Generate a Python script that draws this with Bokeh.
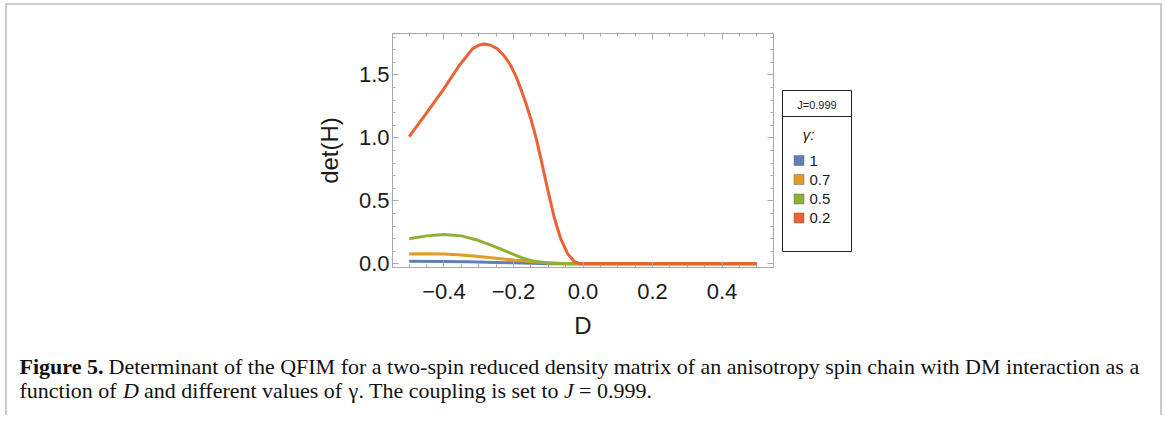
from bokeh.plotting import figure
from bokeh.layouts import row, column
from bokeh.models import Range1d, FixedTicker, LinearAxis
from bokeh.core.properties import value
from bokeh.embed import file_html
from bokeh.resources import INLINE

# ---------------- data ----------------
x_g1 = [-0.5, -0.4, -0.33, -0.25, -0.2, -0.15, -0.1, -0.05, 0.0, 0.5]
y_g1 = [0.021, 0.019, 0.016, 0.011, 0.008, 0.004, 0.001, 0.0, 0.0, 0.0]

x_g07 = [-0.5, -0.45, -0.4, -0.35, -0.3, -0.25, -0.2, -0.15, -0.11, -0.07, -0.03, 0.0, 0.5]
y_g07 = [0.079, 0.08, 0.078, 0.07, 0.058, 0.044, 0.03, 0.018, 0.01, 0.004, 0.0, 0.0, 0.0]

x_g05 = [-0.5, -0.45, -0.4, -0.35, -0.3, -0.265, -0.236, -0.2, -0.17, -0.14, -0.11, -0.08, -0.05, 0.0, 0.5]
y_g05 = [0.2, 0.222, 0.232, 0.222, 0.185, 0.148, 0.117, 0.075, 0.042, 0.02, 0.008, 0.003, 0.0, 0.0, 0.0]

x_g02 = [-0.5, -0.452, -0.404, -0.356, -0.318, -0.3, -0.284, -0.265, -0.246, -0.225,
         -0.208, -0.193, -0.179, -0.165, -0.15, -0.135, -0.121, -0.102, -0.083,
         -0.064, -0.044, -0.025, -0.006, 0.1, 0.2, 0.3, 0.4, 0.5]
y_g02 = [1.01, 1.19, 1.375, 1.574, 1.706, 1.735, 1.745, 1.735, 1.706, 1.645,
         1.574, 1.49, 1.389, 1.28, 1.15, 1.0, 0.833, 0.595, 0.37,
         0.198, 0.079, 0.018, 0.0, 0.0, 0.0, 0.0, 0.0, 0.0]

gamma_labels = ["1", "0.7", "0.5", "0.2"]
colors = ["#5E81B5", "#E19C24", "#8FB032", "#EB6235"]
legend_header = "J=0.999"
legend_title = "\u03b3:"

x_ticks = [-0.4, -0.2, 0.0, 0.2, 0.4]
x_tick_labels = ["\u22120.4", "\u22120.2", "0.0", "0.2", "0.4"]
x_minor = [-0.55, -0.5, -0.45, -0.35, -0.3, -0.25, -0.15, -0.1, -0.05,
           0.05, 0.1, 0.15, 0.25, 0.3, 0.35, 0.45, 0.5, 0.55]
y_ticks = [0.0, 0.5, 1.0, 1.5]
y_tick_labels = ["0.0", "0.5", "1.0", "1.5"]
y_minor = [0.1, 0.2, 0.3, 0.4, 0.6, 0.7, 0.8, 0.9, 1.1, 1.2, 1.3, 1.4, 1.6, 1.7, 1.8]

caption_1 = [("Figure 5.", "bold"),
             ("Determinant of the QFIM for a two-spin reduced density matrix of an "
              "anisotropy spin chain with DM interaction as a", "normal")]
caption_2 = [("function of", "normal"), ("D", "italic"), ("and different values of", "normal"),
             ("\u03b3", "normal"), (". The coupling is set to", "normal"), ("J", "italic"),
             ("= 0.999.", "normal")]

# ---------------- layout ----------------
FRAME = "#a8a8a8"
SANS = "Liberation Sans"
SERIF = "Liberation Serif"
TXT = "#1a1a1a"

MW, MH = 769, 340
F_TOP, F_BOT = 28, 262          # frame top / bottom in content pixels
BT, BB = F_TOP, MH - F_BOT

p = figure(width=MW, height=MH, output_backend="svg", toolbar_location=None,
           x_range=Range1d(-0.548, 0.548), y_range=Range1d(-0.029, 1.828),
           min_border_left=385, min_border_right=3, min_border_top=BT, min_border_bottom=BB,
           background_fill_color="white", border_fill_color="white")
p.grid.visible = False
p.outline_line_color = FRAME
p.outline_line_width = 1

xt = FixedTicker(ticks=x_ticks, minor_ticks=x_minor)
yt = FixedTicker(ticks=y_ticks, minor_ticks=y_minor)
xb = p.xaxis[0]
yl = p.yaxis[0]
xb.ticker = xt
yl.ticker = yt
xb.major_label_overrides = {v: s for v, s in zip(x_ticks, x_tick_labels)}
yl.major_label_overrides = {v: s for v, s in zip(y_ticks, y_tick_labels)}

top = LinearAxis(ticker=xt)
right = LinearAxis(ticker=yt)
p.add_layout(top, "above")
p.add_layout(right, "right")

for ax in [xb, yl, top, right]:
    ax.axis_line_color = FRAME
    ax.major_tick_line_color = FRAME
    ax.minor_tick_line_color = FRAME
    ax.major_tick_in = 6
    ax.major_tick_out = 0
    ax.minor_tick_in = 3
    ax.minor_tick_out = 0
    ax.major_label_text_font = SANS
    ax.major_label_text_color = TXT
    ax.major_label_text_font_size = "22px"
    ax.axis_label_text_font = SANS
    ax.axis_label_text_font_style = "normal"
    ax.axis_label_text_font_size = "24px"
    ax.axis_label_text_color = TXT

# tick-only axes on top and right (no labels drawn)
top.major_label_overrides = {v: "" for v in x_ticks}
right.major_label_overrides = {v: "" for v in y_ticks}
for ax in [top, right]:
    ax.major_label_text_color = None
    ax.major_label_text_font_size = "1px"
    ax.major_label_standoff = 0

xb.major_label_standoff = 16
yl.major_label_standoff = 3
xb.axis_label = "D"
yl.axis_label = "det(H)"
xb.axis_label_standoff = 10
yl.axis_label_standoff = 13

series = [(x_g1, y_g1), (x_g07, y_g07), (x_g05, y_g05), (x_g02, y_g02)]
for (xs, ys), c in zip(series, colors):
    p.line(xs, ys, line_color=c, line_width=3)


def blank(w, h, top=0, bottom=0):
    f = figure(width=w, height=h, output_backend="svg", toolbar_location=None,
               x_range=Range1d(0, w), y_range=Range1d(h - bottom, top),
               min_border_left=0, min_border_right=0,
               min_border_top=top, min_border_bottom=bottom,
               x_axis_location=None, y_axis_location=None,
               background_fill_color="white", border_fill_color="white")
    f.grid.visible = False
    f.outline_line_color = None
    return f


# legend panel (pixel coordinates, y downwards; frame aligned with the chart frame)
LW = 384
lg = blank(LW, MH, top=BT, bottom=BB)
lg.quad(left=[6], right=[75], top=[85], bottom=[246], fill_color="white",
        line_color="#222222", line_width=1)
lg.segment(x0=[6], y0=[111], x1=[75], y1=[111], line_color="#222222", line_width=1)
lg.text(x=[40.5], y=[99], text=[legend_header], text_font=value(SANS), text_font_size="11px",
        text_align="center", text_baseline="middle", text_color=TXT)
lg.text(x=[32], y=[129], text=[legend_title], text_font=value(SANS), text_font_size="15px",
        text_font_style="italic", text_align="center", text_baseline="middle", text_color=TXT)
entry_y = [155, 174, 193.5, 212.5]
lg.rect(x=[22.5] * 4, y=entry_y, width=10, height=10, fill_color=colors,
        line_color="#666666", line_width=0.5)
lg.text(x=[33] * 4, y=entry_y, text=gamma_labels, text_font=value(SANS), text_font_size="15px",
        text_align="left", text_baseline="middle", text_color=TXT)

# caption panel
CW, CH = 1153, 70
cp = blank(CW, CH)
cap1_x = [12, 101]
for (txt, style), xx in zip(caption_1, cap1_x):
    cp.text(x=[xx], y=[21], text=[txt], text_font=value(SERIF), text_font_size="22px",
            text_font_style=style, text_align="left", text_baseline="middle", text_color="#111111")
cap2_x = [12, 115.5, 136.5, 341, 351, 556.5, 571.5]
for (txt, style), xx in zip(caption_2, cap2_x):
    cp.text(x=[xx], y=[45], text=[txt], text_font=value(SERIF), text_font_size="22px",
            text_font_style=style, text_align="left", text_baseline="middle", text_color="#111111")

layout = column(row(p, lg), cp, margin=(3, 0, 0, 5),
                styles={"border-top": "2px solid #cccccc", "border-left": "2px solid #cccccc",
                        "border-right": "2px solid #cccccc"})

open("out.html", "w").write(file_html(layout, INLINE))
